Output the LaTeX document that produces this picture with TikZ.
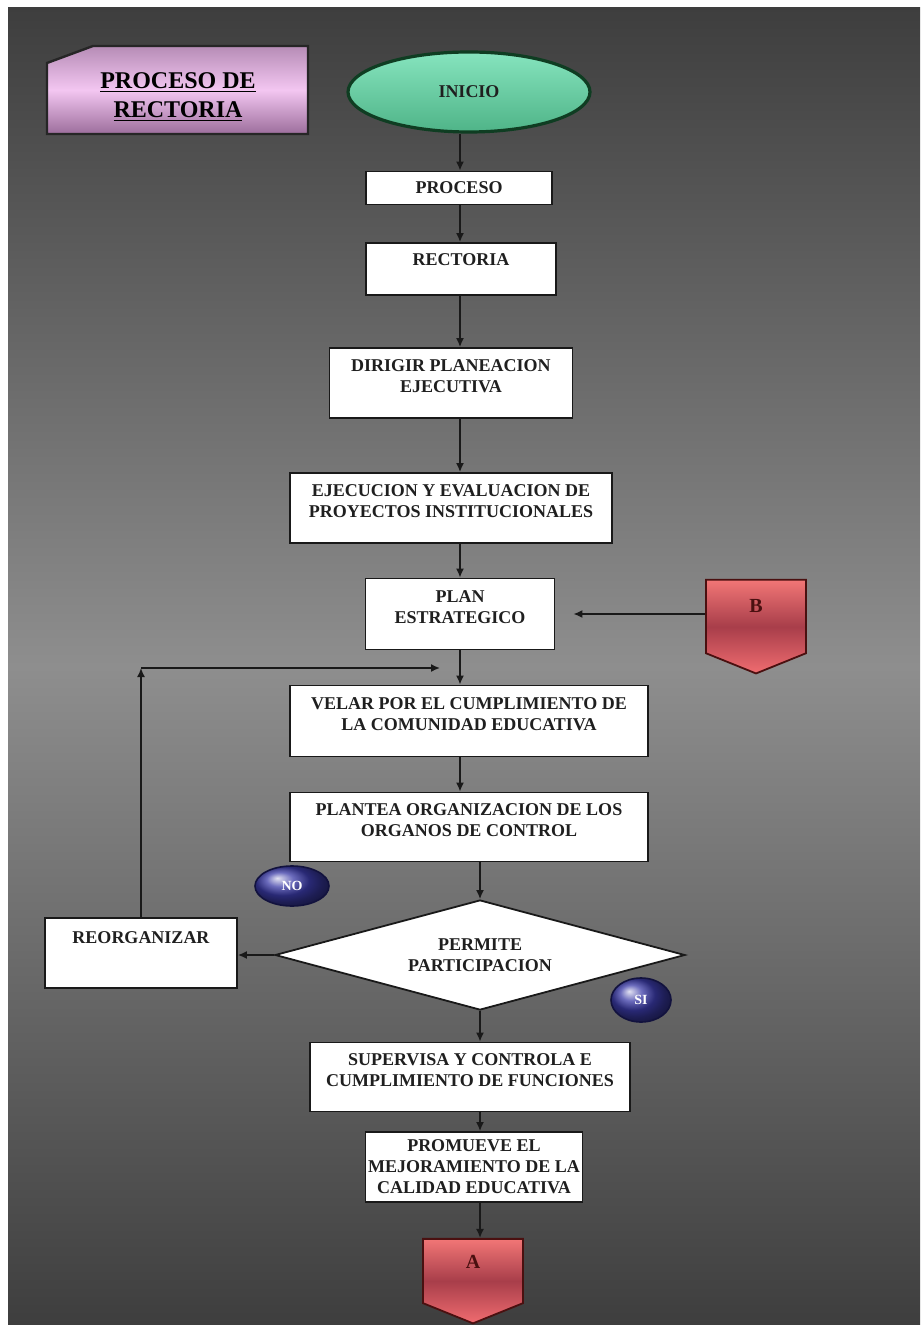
\documentclass[tikz,border=0pt]{standalone}
\usepackage{fontspec}
\setmainfont{Liberation Serif}
\usetikzlibrary{shapes.geometric,shapes.symbols,arrows.meta}

\definecolor{bgdark}{HTML}{3E3E3E}
\definecolor{bglight}{HTML}{8E8E8E}
\definecolor{pinktop}{HTML}{B68CB6}
\definecolor{pinkmid}{HTML}{F3C6F1}
\definecolor{pinkbot}{HTML}{9C6E9C}
\definecolor{greentop}{HTML}{86E4BE}
\definecolor{greenbot}{HTML}{4FB488}
\definecolor{greenedge}{HTML}{0F3D22}
\definecolor{redtop}{HTML}{F27676}
\definecolor{redmid}{HTML}{A83E4A}
\definecolor{redbot}{HTML}{F06C70}
\definecolor{rededge}{HTML}{4A1010}
\definecolor{blueball}{HTML}{3A3AA6}
\definecolor{blueedge}{HTML}{12123E}

\tikzset{
  box/.style={draw=black!90, line width=0.9pt, fill=white, align=center,
    font=\bfseries\fontsize{9}{10.5}\selectfont, text=black!88, inner sep=1pt},
  lift/.style={text depth=#1},
  arr/.style={-{Latex[length=4.5pt,width=4pt]}, line width=0.8pt, black!90},
  offpage/.style={signal, signal to=south, signal pointer angle=136,
    draw=rededge, line width=0.9pt, top color=redtop, bottom color=redbot,
    middle color=redmid, font=\bfseries\fontsize{10}{12}\selectfont,
    text=rededge, minimum width=50pt, inner sep=1pt},
  flag/.style={ellipse, draw=blueedge, line width=0.8pt, ball color=blueball,
    text=white, font=\bfseries\fontsize{7}{8}\selectfont, inner sep=0pt}
}

\begin{document}
\begin{tikzpicture}[x=0.5pt,y=-0.5pt]
  \useasboundingbox (0,0) rectangle (920,1325);
  \fill[white] (0,0) rectangle (920,1325);
  \shade[top color=bgdark, bottom color=bgdark, middle color=bglight] (8,8) rectangle (920,1325);

  % title card
  \shadedraw[top color=pinktop, bottom color=pinkbot, middle color=pinkmid, draw=black!85, line width=1.2pt]
    (47,63) -- (93,46) -- (308,46) -- (308,134) -- (47,134) -- cycle;
  \node[font=\bfseries\fontsize{12}{14.5}\selectfont, align=center] (title) at (178,97)
    {\underline{PROCESO DE}\\\underline{RECTORIA}};

  \coordinate (spine) at (460,0);
  \coordinate (spinelow) at (480,0);

  % steps
  \node[ellipse, draw=greenedge, line width=1.6pt, top color=greentop, bottom color=greenbot,
    minimum width=121pt, minimum height=40pt, font=\bfseries\fontsize{9}{10.5}\selectfont,
    text=black!88] (start) at (469,92) {INICIO};
  \node[box, minimum width=93pt, minimum height=16.5pt] (proc) at (459,188) {PROCESO};
  \node[box, lift=9pt, minimum width=95pt, minimum height=26pt] (rect) at (461,269) {RECTORIA};
  \node[box, lift=7pt, minimum width=121.5pt, minimum height=35pt] (dirig) at (451,383)
    {DIRIGIR PLANEACION\\EJECUTIVA};
  \node[box, lift=7pt, minimum width=161pt, minimum height=35pt] (ejec) at (451,508)
    {EJECUCION Y EVALUACION DE\\PROYECTOS INSTITUCIONALES};
  \node[box, lift=7pt, minimum width=94.5pt, minimum height=35.5pt] (plan) at (460,614)
    {PLAN\\ESTRATEGICO};
  \node[box, lift=7pt, minimum width=179pt, minimum height=35.5pt] (velar) at (469,721)
    {VELAR POR EL CUMPLIMIENTO DE\\LA COMUNIDAD EDUCATIVA};
  \node[box, lift=7pt, minimum width=179pt, minimum height=34.5pt] (plant) at (469,827)
    {PLANTEA ORGANIZACION DE LOS\\ORGANOS DE CONTROL};
  \node[diamond, draw=black!90, line width=0.9pt, fill=white, aspect=3.7, inner sep=0pt,
    minimum width=205pt, minimum height=55pt, align=center,
    font=\bfseries\fontsize{9}{10.5}\selectfont, text=black!88] (dec) at (480,955)
    {PERMITE\\PARTICIPACION};
  \node[box, lift=15pt, minimum width=96pt, minimum height=35pt] (reorg) at (141,953) {REORGANIZAR};
  \node[flag, minimum width=37pt, minimum height=20pt] (no) at (292,886) {NO};
  \node[flag, minimum width=30pt, minimum height=22pt] (si) at (641,1000) {SI};
  \node[box, lift=7pt, minimum width=160pt, minimum height=34.5pt] (superv) at (470,1077)
    {SUPERVISA Y CONTROLA E\\CUMPLIMIENTO DE FUNCIONES};
  \node[box, minimum width=108.5pt, minimum height=35pt] (prom) at (474,1167)
    {PROMUEVE EL\\MEJORAMIENTO DE LA\\CALIDAD EDUCATIVA};
  \node[offpage, lift=11pt, minimum height=38.5pt] (B) at (756,616.5) {B};
  \node[offpage, lift=9pt, minimum height=34pt] (A) at (473,1271) {A};

  % connectors
  \draw[arr] (start.south -| spine) -- (proc.north -| spine);
  \draw[arr] (proc.south -| spine) -- (rect.north -| spine);
  \draw[arr] (rect.south -| spine) -- (dirig.north -| spine);
  \draw[arr] (dirig.south -| spine) -- (ejec.north -| spine);
  \draw[arr] (ejec.south -| spine) -- (plan.north -| spine);
  \draw[arr] (plan.south -| spine) -- (velar.north -| spine);
  \draw[arr] (velar.south -| spine) -- (plant.north -| spine);
  \draw[arr] (plant.south -| spinelow) -- (dec.north);
  \draw[arr] (dec.south) -- (superv.north -| dec.south);
  \draw[arr] (superv.south -| spinelow) -- (prom.north -| spinelow);
  \draw[arr] (prom.south -| spinelow) -- (A.north -| spinelow);
  \draw[arr] (dec.west) -- (dec.west -| reorg.east);
  \coordinate (turn) at (reorg.north |- 0,668);
  \coordinate (merge) at (440,668);
  \draw[arr] (reorg.north) -- (turn);
  \draw[arr] (turn) -- (merge);
  \draw[arr, shorten >=9pt] (B.west |- plan.east) -- (plan.east);
\end{tikzpicture}
\end{document}
